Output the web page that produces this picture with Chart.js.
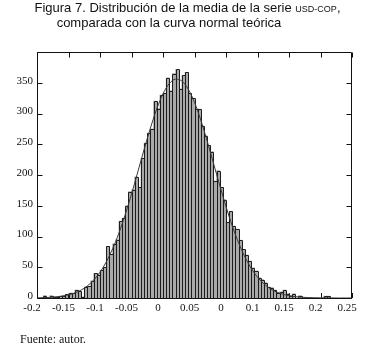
<!DOCTYPE html>
<html>
<head>
<meta charset="utf-8">
<script src="https://cdn.jsdelivr.net/npm/chart.js@4"></script>
<style>
  html, body { margin: 0; padding: 0; background: #fff; }
  #wrap { position: relative; width: 368px; height: 349px; overflow: hidden; }
  #c { position: absolute; left: 0; top: 0; }
  .t { position: absolute; left: 0; font-family: "Liberation Sans", Arial, sans-serif; font-size: 13px;
       line-height: 15px; color: #111; text-align: center; white-space: nowrap; }
  .sc { font-size: 9px; }
  #src { position: absolute; left: 20px; top: 332px; font-family: "Liberation Serif", "Times New Roman", serif;
         font-size: 12px; line-height: 14px; color: #111; }
</style>
</head>
<body>
<div id="wrap">
  <canvas id="c" width="368" height="349"></canvas>
  <div class="t" style="top:-0.5px;width:375px">Figura 7. Distribución de la media de la serie <span class="sc">USD-COP</span>,</div>
  <div class="t" style="top:14.5px;width:338px">comparada con la curva normal teórica</div>
  <div id="src">Fuente: autor.</div>
</div>
<script>
// Histogram bins: first bin starts at BIN_START, every bin is BIN_WIDTH wide.
const BIN_START = -0.19;
const BIN_WIDTH = 0.005;
const COUNTS = [
  4, 0, 4, 2, 2, 3, 4, 6, 8, 8,
  13, 11, 2, 18, 19, 28, 40, 38, 45, 50,
  84, 71, 88, 95, 125, 130, 150, 173, 176, 197,
  180, 227, 252, 268, 275, 320, 308, 330, 333, 358,
  337, 365, 372, 340, 362, 367, 333, 325, 307, 307,
  280, 264, 248, 238, 190, 207, 180, 160, 123, 141,
  117, 112, 94, 79, 70, 60, 49, 44, 33, 30,
  25, 18, 17, 13, 8, 10, 13, 7, 4, 7,
  0, 4, 0, 0, 0, 0, 0, 0, 0, 3, 3
];

// Theoretical normal curve, sampled along the axis.
const CURVE_X = [
  -0.20, -0.19, -0.18, -0.17, -0.16, -0.15, -0.14, -0.13, -0.12, -0.11,
  -0.10, -0.09, -0.08, -0.07, -0.06, -0.05, -0.04, -0.03, -0.02, -0.01,
   0.00,  0.01,  0.02,  0.03,  0.04,  0.05,  0.06,  0.07,  0.08,  0.09,
   0.10,  0.11,  0.12,  0.13,  0.14,  0.15,  0.16,  0.17,  0.18,  0.19,
   0.20,  0.21,  0.22,  0.23,  0.24,  0.25,  0.26,  0.27,  0.28,  0.29, 0.30
];
const CURVE_Y = [
  0.3, 0.6, 1.0, 1.8, 3.1, 5.1, 8.2, 12.9, 19.7, 29.1,
  42.0, 58.7, 79.9, 105.5, 135.5, 169.0, 205.0, 241.5, 276.3, 307.3,
  332.1, 348.7, 355.8, 352.7, 339.8, 318.1, 289.3, 255.7, 219.6, 183.3,
  148.6, 117.0, 89.6, 66.6, 48.2, 33.8, 23.1, 15.3, 9.9, 6.2,
  3.8, 2.2, 1.3, 0.7, 0.4, 0.2, 0.1, 0.1, 0, 0, 0
];

// Axis ticks and the labels printed under them.
const X_TICK_VALUES = [-0.2, -0.15, -0.1, -0.05, 0, 0.05, 0.1, 0.15, 0.2, 0.25, 0.3];
const X_TICK_LABELS = ['-0.2', '-0.15', '-0.1', '-0.05', '0', '0.05', '0', '0.1', '0.15', '0.2', '0.25'];
const Y_TICK_VALUES = [0, 50, 100, 150, 200, 250, 300, 350];

const INK = '#111';
const TICK_LEN = 5;
const serif = { family: '"Liberation Serif", "Times New Roman", serif', size: 11 };

// Boxed frame with inward tick marks, and 1px outlines around every bar.
const framePlugin = {
  id: 'frame',
  beforeDatasetsDraw(chart) {
    const { ctx, chartArea: a, scales: { x } } = chart;
    ctx.save();
    ctx.strokeStyle = INK;
    ctx.lineWidth = 1;
    ctx.beginPath();
    X_TICK_VALUES.forEach(v => {
      const px = Math.round(x.getPixelForValue(v)) + 0.5;
      ctx.moveTo(px, a.bottom);
      ctx.lineTo(px, a.bottom - TICK_LEN);
    });
    ctx.stroke();
    ctx.restore();
  },
  afterDatasetDraw(chart, args) {
    if (args.index !== 0) return;
    const { ctx } = chart;
    const meta = chart.getDatasetMeta(0);
    ctx.save();
    ctx.strokeStyle = '#1c1c1c';
    ctx.lineWidth = 1;
    ctx.beginPath();
    meta.data.forEach((el, i) => {
      if (!COUNTS[i]) return;
      const p = el.getProps(['x', 'y', 'base', 'width'], true);
      const l = Math.round(p.x - p.width / 2) + 0.5;
      const r = Math.round(p.x + p.width / 2) + 0.5;
      const t = Math.round(p.y) + 0.5;
      const b = Math.round(p.base) + 0.5;
      ctx.moveTo(l, b);
      ctx.lineTo(l, t);
      ctx.lineTo(r, t);
      ctx.lineTo(r, b);
    });
    ctx.stroke();
    ctx.restore();
  },
  afterDraw(chart) {
    const { ctx, chartArea: a, scales: { x, y } } = chart;
    const L = Math.round(a.left) + 0.5, R = Math.round(a.right) - 0.5;
    const T = Math.round(a.top) + 0.5, B = Math.round(a.bottom) + 0.5;
    ctx.save();
    ctx.strokeStyle = INK;
    ctx.lineWidth = 1;
    ctx.beginPath();
    ctx.rect(L, T, R - L, B - T);
    X_TICK_VALUES.forEach(v => {
      const px = Math.round(x.getPixelForValue(v)) + 0.5;
      ctx.moveTo(px, T);
      ctx.lineTo(px, T + TICK_LEN);
    });
    Y_TICK_VALUES.forEach(v => {
      const py = Math.round(y.getPixelForValue(v)) + 0.5;
      ctx.moveTo(L, py);
      ctx.lineTo(L + TICK_LEN, py);
      ctx.moveTo(R, py);
      ctx.lineTo(R - TICK_LEN, py);
    });
    ctx.stroke();
    ctx.restore();
  }
};

const bars = COUNTS.map((n, i) => ({ x: BIN_START + BIN_WIDTH * (i + 0.5), y: n }));
const curve = CURVE_X.map((v, i) => ({ x: v, y: CURVE_Y[i] }));

new Chart(document.getElementById('c'), {
  type: 'bar',
  data: {
    datasets: [
      {
        type: 'bar',
        data: bars,
        backgroundColor: '#a9a9a9',
        borderWidth: 0,
        barPercentage: 1,
        categoryPercentage: 1,
        order: 2
      },
      {
        type: 'line',
        data: curve,
        borderColor: '#3a3a3a',
        borderWidth: 1,
        pointRadius: 0,
        fill: false,
        cubicInterpolationMode: 'monotone',
        order: 1
      }
    ]
  },
  options: {
    responsive: false,
    animation: false,
    devicePixelRatio: 1,
    layout: { padding: { left: 0, right: 16, top: 52, bottom: 0 } },
    plugins: { legend: { display: false }, tooltip: { enabled: false } },
    scales: {
      x: {
        type: 'linear',
        min: -0.2,
        max: 0.3,
        offset: false,
        grid: { display: false, drawTicks: false },
        border: { display: false },
        afterBuildTicks(s) { s.ticks = X_TICK_VALUES.map(v => ({ value: v })); },
        afterFit(s) { s.height = 51; },
        ticks: {
          autoSkip: false,
          maxRotation: 0,
          padding: 4,
          labelOffset: -5,
          color: INK,
          font: serif,
          callback: (v, i) => X_TICK_LABELS[i]
        }
      },
      y: {
        min: 0,
        max: 400,
        grid: { display: false, drawTicks: false },
        border: { display: false },
        afterBuildTicks(s) { s.ticks = Y_TICK_VALUES.map(v => ({ value: v })); },
        afterFit(s) { s.width = 37; },
        ticks: {
          padding: 4,
          labelOffset: -2,
          color: INK,
          font: serif,
          callback: v => String(v)
        }
      }
    }
  },
  plugins: [framePlugin]
});
</script>
</body>
</html>
